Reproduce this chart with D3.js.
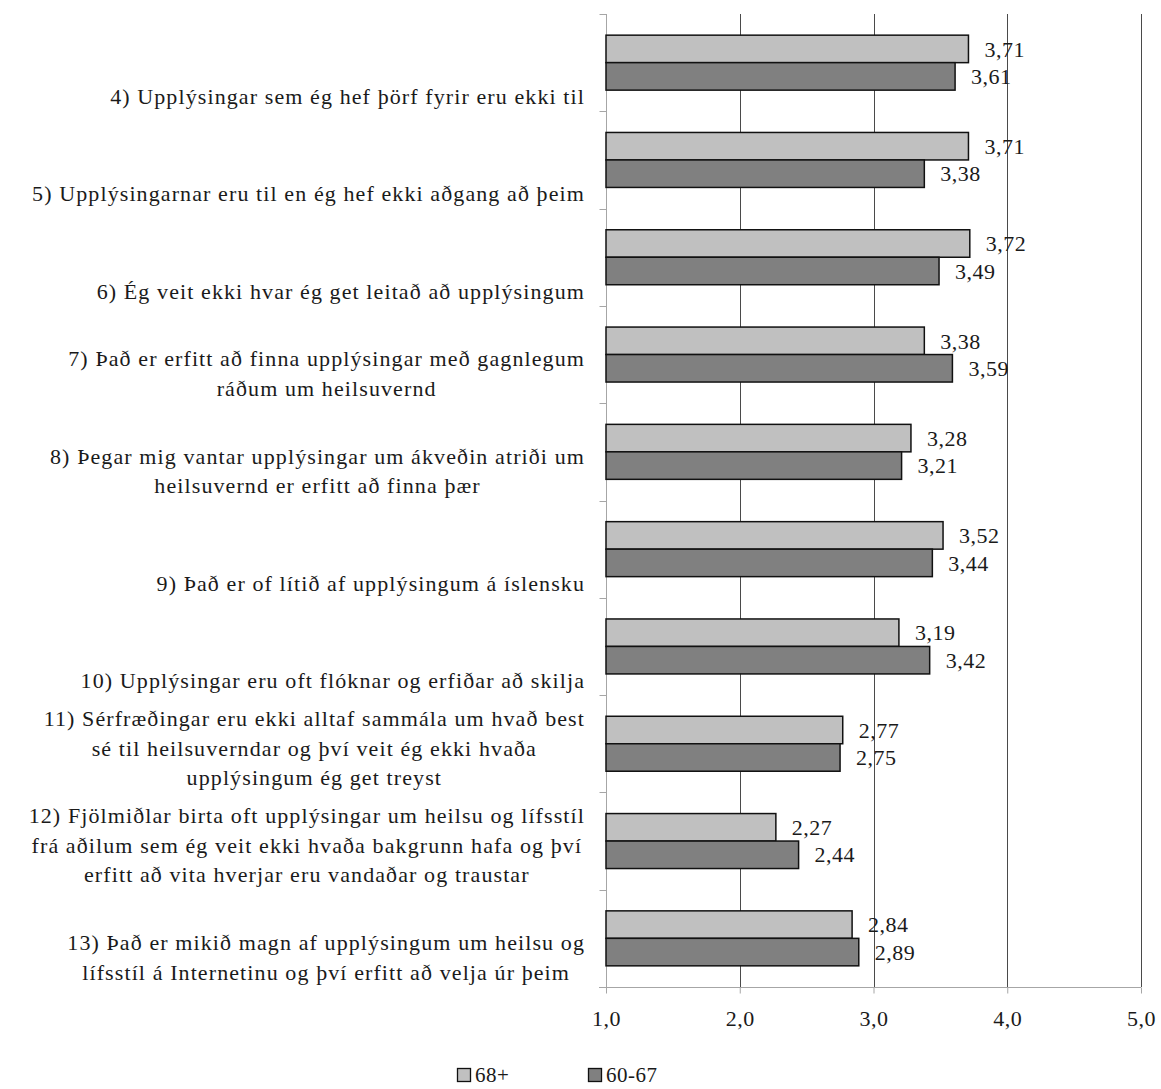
<!DOCTYPE html>
<html>
<head>
<meta charset="utf-8">
<script src="https://cdn.jsdelivr.net/npm/d3@7"></script>
<style>
  html, body { margin: 0; padding: 0; background: #fff; }
  svg { display: block; }
</style>
</head>
<body>
<svg id="chart" width="1161" height="1089"></svg>
<script>
// Category labels, one array entry per printed line
const categories = [
  ["4) Upplýsingar sem ég hef þörf fyrir eru ekki til"],
  ["5) Upplýsingarnar eru til en ég hef ekki aðgang að þeim"],
  ["6) Ég veit ekki hvar ég get leitað að upplýsingum"],
  ["7) Það er erfitt að finna upplýsingar með gagnlegum", "ráðum um heilsuvernd"],
  ["8) Þegar mig vantar upplýsingar um ákveðin atriði um", "heilsuvernd er erfitt að finna þær"],
  ["9) Það er of lítið af upplýsingum á íslensku"],
  ["10) Upplýsingar eru oft flóknar og erfiðar að skilja"],
  ["11) Sérfræðingar eru ekki alltaf sammála um hvað best", "sé til heilsuverndar og því veit ég ekki hvaða", "upplýsingum ég get treyst"],
  ["12) Fjölmiðlar birta oft upplýsingar um heilsu og lífsstíl", "frá aðilum sem ég veit ekki hvaða bakgrunn hafa og því", "erfitt að vita hverjar eru vandaðar og traustar"],
  ["13) Það er mikið magn af upplýsingum um heilsu og", "lífsstíl á Internetinu og því erfitt að velja úr þeim"]
];

const seriesNames = ["68+", "60-67"];
const values68plus = [3.71, 3.71, 3.72, 3.38, 3.28, 3.52, 3.19, 2.77, 2.27, 2.84];
const values6067   = [3.61, 3.38, 3.49, 3.59, 3.21, 3.44, 3.42, 2.75, 2.44, 2.89];
const xTicks = [1, 2, 3, 4, 5];

const seriesColors = ["#c0c0c0", "#808080"];
const FONT = '"Liberation Serif", "Times New Roman", serif';
const fmt = v => v.toFixed(2).replace(".", ",");
const fmtTick = v => v.toFixed(1).replace(".", ",");

const svg = d3.select("#chart");
const plot = { left: 606, right: 1141, top: 14, bottom: 987 };

const styleText = (sel, size, spacing) => sel
  .style("font-family", FONT).style("font-size", size + "px")
  .style("letter-spacing", spacing + "px").style("fill", "#1a1a1a");

const x = d3.scaleLinear().domain([1, 5]).range([plot.left, plot.right]);
const idx = d3.range(categories.length);
const y = d3.scaleBand().domain(idx).range([plot.top, plot.bottom]).paddingInner(0.435).paddingOuter(0.2175);
const ySub = d3.scaleBand().domain([0, 1]).range([0, y.bandwidth()]);
const outer = d3.scaleBand().domain(idx).range([plot.top, plot.bottom]);

// vertical gridlines
svg.append("g").selectAll("line").data(xTicks.slice(1)).join("line")
  .attr("x1", d => Math.round(x(d)) + 0.5).attr("x2", d => Math.round(x(d)) + 0.5)
  .attr("y1", plot.top).attr("y2", plot.bottom)
  .attr("stroke", "#4a4a4a").attr("stroke-width", 1);

// bottom axis
const xAxis = svg.append("g").attr("transform", `translate(0,${plot.bottom + 0.5})`)
  .call(d3.axisBottom(x).tickValues(xTicks).tickFormat(fmtTick).tickSize(6).tickPadding(17));
xAxis.select(".domain").attr("stroke", "#a6a6a6").attr("d", `M${plot.left - 7},0H${plot.right}`);
xAxis.selectAll(".tick line").attr("stroke", "#a6a6a6");
styleText(xAxis.selectAll(".tick text"), 22, 0.5);

// left axis with ticks at category boundaries
const leftG = svg.append("g").attr("transform", `translate(${plot.left + 0.5},0)`);
leftG.append("line").attr("y1", plot.top).attr("y2", plot.bottom).attr("stroke", "#a6a6a6");
leftG.selectAll("line.t").data(d3.range(categories.length + 1)).join("line").attr("class", "t")
  .attr("x1", -7).attr("x2", 0)
  .attr("y1", d => Math.round(plot.top + d * outer.step()) + 0.5)
  .attr("y2", d => Math.round(plot.top + d * outer.step()) + 0.5)
  .attr("stroke", "#a6a6a6");

// bars with value labels
const series = [values68plus, values6067];
series.forEach((vals, s) => {
  const g = svg.append("g");
  g.selectAll("rect").data(vals).join("rect")
    .attr("x", x(1))
    .attr("y", (d, i) => y(i) + ySub(s))
    .attr("width", d => x(d) - x(1))
    .attr("height", ySub.bandwidth())
    .attr("fill", seriesColors[s])
    .attr("stroke", "#111").attr("stroke-width", 1.5);
  styleText(g.selectAll("text").data(vals).join("text"), 22, 0.5)
    .attr("x", d => x(d) + 16)
    .attr("y", (d, i) => y(i) + ySub(s) + ySub.bandwidth() / 2)
    .attr("dy", "0.35em")
    .text(d => fmt(d));
});

// category labels: bottom-anchored within each band, centred lines
const labelRight = 585;
const lineH = 29.5;
categories.forEach((lines, i) => {
  const g = svg.append("g");
  const lastY = outer(i) + outer.bandwidth() - 15;
  const texts = lines.map((ln, j) => styleText(g.append("text"), 22, 1.1)
    .attr("y", lastY - (lines.length - 1 - j) * lineH)
    .attr("dy", "0.35em")
    .attr("text-anchor", "middle")
    .text(ln));
  const maxW = d3.max(texts, t => t.node().getComputedTextLength());
  texts.forEach(t => t.attr("x", labelRight - maxW / 2));
});

// legend
const legend = svg.append("g");
const legendX = [457, 588];
seriesNames.forEach((name, s) => {
  const lx = legendX[s];
  legend.append("rect").attr("x", lx + 0.5).attr("y", 1068.5).attr("width", 13).attr("height", 13)
    .attr("fill", seriesColors[s]).attr("stroke", "#111").attr("stroke-width", 1.3);
  styleText(legend.append("text"), 21, 0.5)
    .attr("x", lx + 18).attr("y", 1075).attr("dy", "0.35em").text(name);
});
</script>
</body>
</html>
